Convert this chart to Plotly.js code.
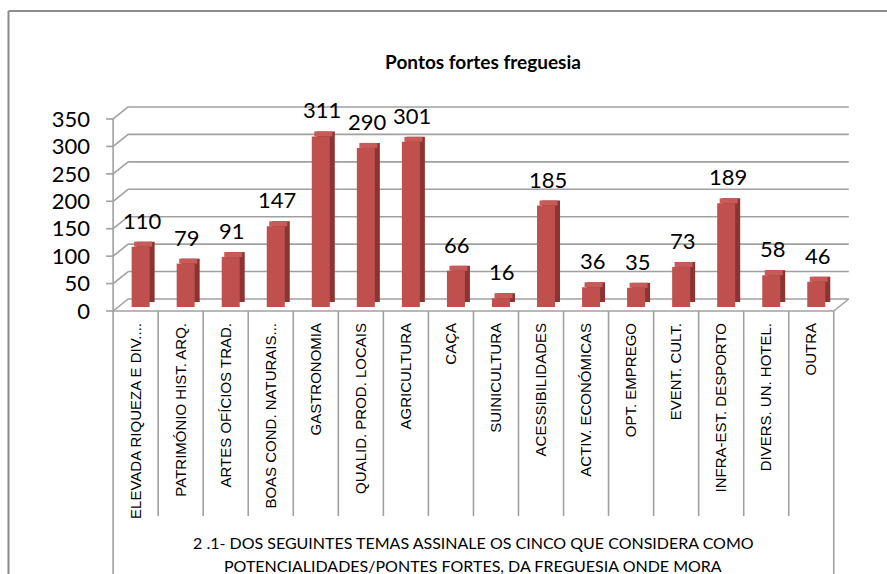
<!DOCTYPE html>
<html>
<head>
<meta charset="utf-8">
<script src="https://cdn.plot.ly/plotly-3.0.1.min.js"></script>
<style>
  html, body { margin: 0; padding: 0; background: #fff; }
  #myDiv { width: 887px; height: 574px; }
</style>
</head>
<body>
<div id="myDiv"></div>
<script>
var categories = [
  'ELEVADA RIQUEZA E DIV....', 'PATRIMÓNIO HIST. ARQ.', 'ARTES OFÍCIOS TRAD.',
  'BOAS COND. NATURAIS...', 'GASTRONOMIA', 'QUALID. PROD. LOCAIS', 'AGRICULTURA',
  'CAÇA', 'SUINICULTURA', 'ACESSIBILIDADES', 'ACTIV. ECONÓMICAS', 'OPT. EMPREGO',
  'EVENT. CULT.', 'INFRA-EST. DESPORTO', 'DIVERS. UN. HOTEL.', 'OUTRA'
];
var counts = [110, 79, 91, 147, 311, 290, 301, 66, 16, 185, 36, 35, 73, 189, 58, 46];
var yTicks = [0, 50, 100, 150, 200, 250, 300, 350];
var axisTitle = [
  '2 .1- DOS SEGUINTES TEMAS ASSINALE OS CINCO QUE CONSIDERA COMO',
  'POTENCIALIDADES/PONTES FORTES, DA FREGUESIA ONDE MORA'
];

// plot area geometry (px) used to fake the 3d look
var L = 105, W = 745, B = 313, H = 213;
var xr = [-0.68, 15.86], yr = [-3.65, 384.6];
var pxX = W / (xr[1] - xr[0]);   // px per category
var pxY = H / (yr[1] - yr[0]);   // px per unit
function ux(px) { return px / pxX; }
function uy(px) { return px / pxY; }
function paperX(px) { return (px - L) / W; }
function paperY(py) { return (B - py) / H; }

var floorU = uy(4), depthU = uy(5);
var barW = ux(18), shift = ux(5), dx = ux(5);
var backX = ux(15), backY = uy(12);

var side = {
  type: 'bar', x: categories, y: counts,
  base: counts.map(function () { return floorU + depthU; }),
  width: barW, offset: -barW / 2 + shift + dx,
  marker: { color: '#8B3533' }, hoverinfo: 'skip'
};
var top3d = {
  type: 'bar', x: categories,
  y: counts.map(function () { return depthU; }),
  base: counts.map(function (v) { return v + floorU; }),
  width: barW, offset: -barW / 2 + shift + dx / 2,
  marker: { color: '#C65B58' }, hoverinfo: 'skip'
};
var front = {
  type: 'bar', x: categories, y: counts,
  base: counts.map(function () { return floorU; }),
  width: barW, offset: -barW / 2 + shift,
  marker: { color: '#C0504D' }, hoverinfo: 'skip'
};

var grey = '#A0A0A0';
var shapes = [];
yTicks.forEach(function (v) {
  // back wall grid line, side wall diagonal, front tick
  shapes.push({ type: 'line', xref: 'x', yref: 'y', layer: 'below',
    x0: -0.5 + backX, x1: 15.5 + backX, y0: v + backY, y1: v + backY,
    line: { color: grey, width: 1.6 } });
  shapes.push({ type: 'line', xref: 'x', yref: 'y', layer: 'below',
    x0: -0.5, x1: -0.5 + backX, y0: v, y1: v + backY,
    line: { color: grey, width: 1.6 } });
  shapes.push({ type: 'line', xref: 'x', yref: 'y', layer: 'below',
    x0: -0.5 - ux(7), x1: -0.5, y0: v, y1: v,
    line: { color: grey, width: 1.6 } });
});
// front axis, floor edges
shapes.push({ type: 'line', xref: 'x', yref: 'y', layer: 'below',
  x0: -0.5, x1: -0.5, y0: 0, y1: 350, line: { color: grey, width: 1.6 } });
shapes.push({ type: 'line', xref: 'x', yref: 'y', layer: 'below',
  x0: -0.5, x1: 15.5, y0: 0, y1: 0, line: { color: grey, width: 1.6 } });
shapes.push({ type: 'line', xref: 'x', yref: 'y', layer: 'below',
  x0: 15.5, x1: 15.5 + backX, y0: 0, y1: backY, line: { color: grey, width: 1.6 } });
// category table separators
for (var k = 0; k <= categories.length; k++) {
  var edge = (k === 0 || k === categories.length);
  shapes.push({ type: 'line', xref: 'x', yref: 'paper', layer: 'below',
    x0: k - 0.5, x1: k - 0.5, y0: paperY(311), y1: paperY(edge ? 590 : 516),
    line: { color: grey, width: 1.6 } });
}
// chart frame
shapes.push({ type: 'line', xref: 'paper', yref: 'paper',
  x0: paperX(8.5), x1: paperX(8.5), y0: paperY(11), y1: paperY(590),
  line: { color: '#8C8C8C', width: 2 } });
shapes.push({ type: 'line', xref: 'paper', yref: 'paper',
  x0: paperX(8.5), x1: paperX(900), y0: paperY(11), y1: paperY(11),
  line: { color: '#8C8C8C', width: 2 } });

var annotations = counts.map(function (v, i) {
  return { x: categories[i], y: v + floorU, xref: 'x', yref: 'y',
    text: String(v), showarrow: false, xshift: 6.5, yshift: 11, yanchor: 'bottom',
    font: { family: 'Lato, sans-serif', size: 22, color: '#000' } };
});
axisTitle.forEach(function (t, i) {
  annotations.push({ x: 7.5, y: paperY(542 + i * 23), xref: 'x', yref: 'paper',
    text: t, showarrow: false, yanchor: 'middle',
    font: { family: 'Lato, sans-serif', size: 16, color: '#000' } });
});

var layout = {
  width: 887, height: 574,
  margin: { l: L, r: 887 - L - W, t: B - H, b: 574 - B, pad: 0 },
  paper_bgcolor: '#fff', plot_bgcolor: 'rgba(0,0,0,0)',
  title: {
    text: '<b>Pontos fortes freguesia</b>',
    font: { family: 'Lato, sans-serif', size: 19, color: '#000' },
    x: 483 / 887, xanchor: 'center', y: 1 - 62 / 574, yanchor: 'middle'
  },
  barmode: 'overlay',
  showlegend: false,
  xaxis: {
    type: 'category', range: xr, fixedrange: true,
    showgrid: false, zeroline: false, showline: false, ticks: '',
    tickangle: -90, automargin: false, ticklabelstandoff: 6,
    tickfont: { family: 'Liberation Sans, Arial, sans-serif', size: 15, color: '#000' }
  },
  yaxis: {
    range: yr, fixedrange: true, tickvals: yTicks,
    showgrid: false, zeroline: false, showline: false, ticks: '',
    automargin: false, ticklabelstandoff: 14,
    tickfont: { family: 'Lato, sans-serif', size: 22, color: '#000' }
  },
  shapes: shapes,
  annotations: annotations
};

Plotly.newPlot('myDiv', [side, top3d, front], layout, { displayModeBar: false, staticPlot: true });
</script>
</body>
</html>
